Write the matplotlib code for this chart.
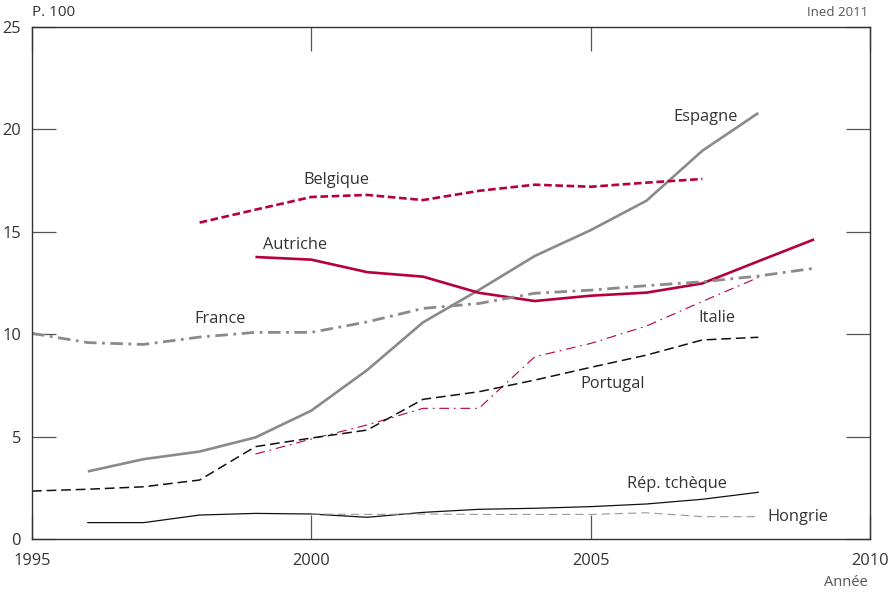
import matplotlib
matplotlib.use('Agg')
import matplotlib.pyplot as plt

plt.rcParams['font.family'] = ['Open Sans', 'DejaVu Sans']
plt.rcParams['lines.scale_dashes'] = False

# Data (p. 100)
years_espagne = [1996, 1997, 1998, 1999, 2000, 2001, 2002, 2003, 2004, 2005, 2006, 2007, 2008]
espagne = [3.3, 3.9, 4.27, 4.96, 6.27, 8.25, 10.58, 12.16, 13.82, 15.08, 16.52, 18.96, 20.8]

years_belgique = [1998, 1999, 2000, 2001, 2002, 2003, 2004, 2005, 2006, 2007]
belgique = [15.45, 16.08, 16.7, 16.8, 16.55, 17.0, 17.3, 17.2, 17.4, 17.58]

years_autriche = [1999, 2000, 2001, 2002, 2003, 2004, 2005, 2006, 2007, 2008, 2009]
autriche = [13.77, 13.64, 13.03, 12.81, 12.02, 11.62, 11.88, 12.03, 12.48, 13.56, 14.63]

years_france = [1995, 1996, 1997, 1998, 1999, 2000, 2001, 2002, 2003, 2004, 2005, 2006, 2007, 2008, 2009]
france = [10.04, 9.59, 9.5, 9.86, 10.09, 10.09, 10.6, 11.26, 11.5, 12.0, 12.15, 12.37, 12.56, 12.84, 13.22]

years_italie = [1999, 2000, 2001, 2002, 2003, 2004, 2005, 2006, 2007, 2008]
italie = [4.15, 4.88, 5.57, 6.38, 6.38, 8.9, 9.55, 10.4, 11.6, 12.77]

years_portugal = [1995, 1996, 1997, 1998, 1999, 2000, 2001, 2002, 2003, 2004, 2005, 2006, 2007, 2008]
portugal = [2.34, 2.43, 2.55, 2.88, 4.51, 4.93, 5.32, 6.82, 7.19, 7.76, 8.38, 8.98, 9.72, 9.85]

years_tcheque = [1996, 1997, 1998, 1999, 2000, 2001, 2002, 2003, 2004, 2005, 2006, 2007, 2008]
tcheque = [0.8, 0.8, 1.17, 1.25, 1.22, 1.06, 1.3, 1.45, 1.5, 1.58, 1.71, 1.94, 2.28]

years_hongrie = [2000, 2001, 2002, 2003, 2004, 2005, 2006, 2007, 2008]
hongrie = [1.22, 1.2, 1.22, 1.2, 1.2, 1.2, 1.28, 1.09, 1.09]

red = '#b5003c'
grey = '#8a8a8a'
txt = '#333333'

fig = plt.figure(figsize=(8.9, 5.93), dpi=100)
ax = fig.add_axes([32 / 890, 1 - 539 / 593, 838 / 890, 512 / 593])

# Series
ax.plot(years_espagne, espagne, color=grey, lw=1.9, solid_capstyle='butt')
ax.plot(years_belgique, belgique, color=red, lw=1.9, dashes=(5.5, 2.6))
ax.plot(years_autriche, autriche, color=red, lw=1.9, solid_capstyle='butt')
ax.plot(years_france, france, color=grey, lw=2.0, dashes=(9, 4, 2, 4))
ax.plot(years_italie, italie, color=red, lw=0.8, dashes=(7, 3.5, 1.2, 3.5))
ax.plot(years_portugal, portugal, color='#111111', lw=1.1, dashes=(7, 3.5))
ax.plot(years_tcheque, tcheque, color='#111111', lw=0.9)
ax.plot(years_hongrie, hongrie, color='#999999', lw=0.8, dashes=(6, 3.5))

# Series labels
labels = [
    ('Espagne', 2006.48, 20.6),
    ('Belgique', 1999.85, 17.53),
    ('Autriche', 1999.13, 14.36),
    ('France', 1997.9, 10.74),
    ('Italie', 2006.92, 10.79),
    ('Portugal', 2004.81, 7.57),
    ('Rép. tchèque', 2005.65, 2.69),
    ('Hongrie', 2008.16, 1.07),
]
for name, lx, ly in labels:
    ax.text(lx, ly, name, ha='left', va='center', fontsize=11.8, color=txt)

ax.set_xlim(1995, 2010)
ax.set_ylim(0, 25)
ax.set_xticks([1995, 2000, 2005, 2010])
ax.set_yticks([0, 5, 10, 15, 20, 25])
ax.tick_params(direction='in', length=17, width=0.9, color='#555555',
               labelsize=11.8, labelcolor=txt, top=True, right=True)
ax.tick_params(axis='x', pad=10)
ax.tick_params(axis='y', pad=8)
for s in ax.spines.values():
    s.set_color('#333333')
    s.set_linewidth(1.0)

fig.text(32 / 890, 1 - 13 / 593, 'P. 100', ha='left', va='center', fontsize=11, color=txt)
fig.text(868 / 890, 1 - 13 / 593, 'Ined 2011', ha='right', va='center', fontsize=9.5, color='#555555')
fig.text(868 / 890, 1 - 582 / 593, 'Année', ha='right', va='center', fontsize=10.5, color='#555555')

fig.savefig('out.png', dpi=100)
